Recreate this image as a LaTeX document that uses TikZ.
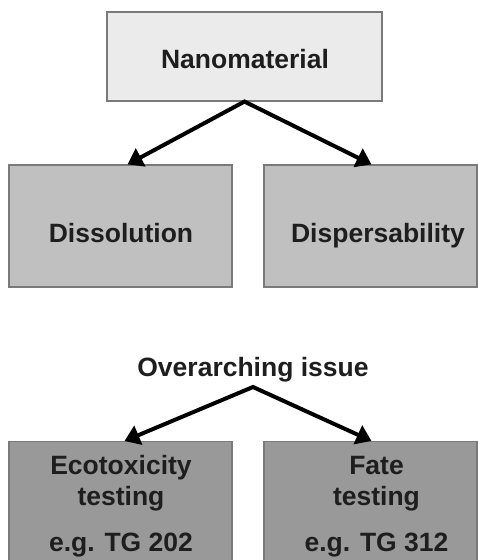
\documentclass[tikz,border=0pt]{standalone}
\usepackage{fontspec}
\setmainfont{Liberation Sans}
\usetikzlibrary{arrows.meta}
\definecolor{boxline}{HTML}{7A7A7A}
\definecolor{topfill}{HTML}{EBEBEB}
\definecolor{midfill}{HTML}{C0C0C0}
\definecolor{lowfill}{HTML}{999999}
\definecolor{ink}{HTML}{1E1E1E}
\tikzset{
  card/.style={draw=boxline, line width=1.1pt, rectangle, inner sep=0pt},
  label/.style={font=\fontsize{26.5}{31}\selectfont\bfseries, text=ink, align=center, inner sep=0pt, anchor=base},
  branch/.style={line width=4pt, line join=miter, draw=black,
    {Triangle[length=15pt,width=20pt]}-{Triangle[length=15pt,width=20pt]}},
}
\begin{document}
\begin{tikzpicture}[x=1pt,y=-1pt]
\useasboundingbox (0,0) rectangle (478,560);
\clip (0,0) rectangle (478,560);
\fill[white] (0,0) rectangle (478,560);

% top level
\node[card, fill=topfill, minimum width=275pt, minimum height=89pt] (nano) at (244.5,56.5) {};
\node[label] (nanotext) at (245,68) {Nanomaterial};

% properties
\node[card, fill=midfill, minimum width=223pt, minimum height=122pt] (diss) at (120.5,226) {};
\node[card, fill=midfill, minimum width=213pt, minimum height=122pt] (disp) at (370.5,226) {};
\node[label] (disstext) at (121,242) {Dissolution};
\node[label] (disptext) at (378,242) {Dispersability};

\draw[branch] ([xshift=7pt]diss.north) -- (nano.south) -- ([xshift=1pt]disp.north);

% overarching issue
\node[label] (issue) at (253,376.5) {Overarching issue};
\coordinate (fork) at (253,387);

% tests
\node[card, fill=lowfill, minimum width=223pt, minimum height=160pt, anchor=north] (eco) at (120.5,441) {};
\node[card, fill=lowfill, minimum width=213pt, minimum height=160pt, anchor=north] (fate) at (370.5,441) {};
\node[label] (ecotext) at (121,551) {Ecotoxicity\\testing\\[15pt]e.g. TG 202};
\node[label] (fatetext) at (376.5,551) {Fate\\testing\\[15pt]e.g. TG 312};

\draw[branch] ([xshift=4pt]eco.north) -- (fork) -- ([xshift=1pt]fate.north);
\end{tikzpicture}
\end{document}
